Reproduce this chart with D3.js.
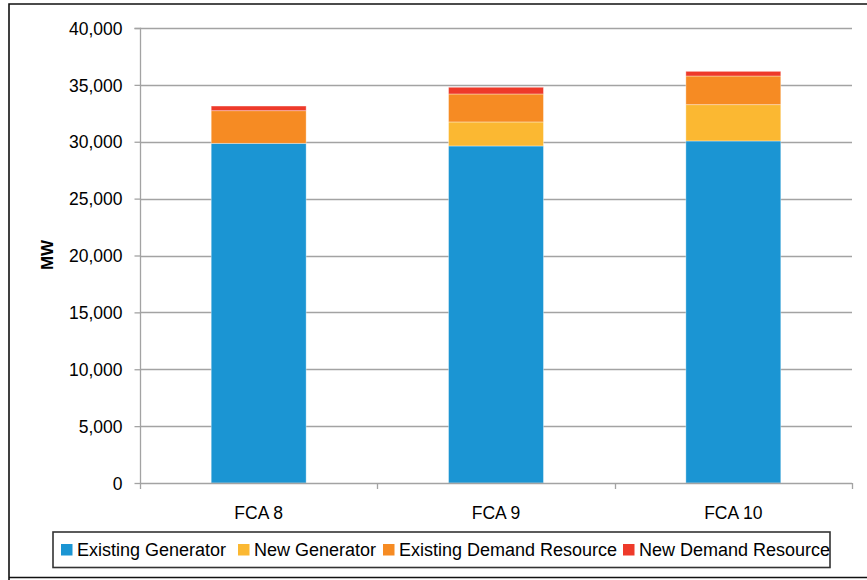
<!DOCTYPE html>
<html>
<head>
<meta charset="utf-8">
<script src="https://cdn.jsdelivr.net/npm/d3@7"></script>
<style>
  body { margin: 0; background: #fff; }
  svg text { font-family: "Liberation Sans", Arial, sans-serif; fill: #000; }
</style>
</head>
<body>
<svg width="867" height="580"></svg>
<script>
// data
var auctions = ["FCA 8", "FCA 9", "FCA 10"];
var seriesNames = ["Existing Generator", "New Generator", "Existing Demand Resource", "New Demand Resource"];
var existingGen = [29860, 29630, 30070];
var newGen = [0, 2110, 3190];
var existingDR = [2870, 2460, 2520];
var newDR = [410, 590, 410];
var yTicks = [0, 5000, 10000, 15000, 20000, 25000, 30000, 35000, 40000];
var colors = ["#1b95d3", "#fbb832", "#f68b23", "#ee3a2a"];

var svg = d3.select("svg");

// outer frame
svg.append("path")
  .attr("d", "M9,600 V4 H900")
  .attr("fill", "none")
  .attr("stroke", "#111")
  .attr("stroke-width", 1.6);
svg.append("line")
  .attr("x1", 9).attr("x2", 900)
  .attr("y1", 577.5).attr("y2", 577.5)
  .attr("stroke", "#111").attr("stroke-width", 1.6);

var plotLeft = 140, plotRight = 852, plotTop = 28, plotBottom = 483;

var x = d3.scaleBand()
  .domain(auctions)
  .range([plotLeft, plotRight])
  .paddingInner(0.6)
  .paddingOuter(0.3);

var y = d3.scaleLinear()
  .domain([0, 40000])
  .range([plotBottom, plotTop]);

// gridlines
svg.append("g")
  .selectAll("line")
  .data(yTicks.filter(d => d > 0))
  .enter()
  .append("line")
    .attr("x1", plotLeft).attr("x2", plotRight)
    .attr("y1", d => Math.round(y(d)) + 0.5)
    .attr("y2", d => Math.round(y(d)) + 0.5)
    .attr("stroke", "#a3a3a3")
    .attr("stroke-width", 1.3);

// stacked bars
var rows = auctions.map(function(a, i){
  return {cat: a, s0: existingGen[i], s1: newGen[i], s2: existingDR[i], s3: newDR[i]};
});
var stack = d3.stack().keys(["s0", "s1", "s2", "s3"])(rows);

svg.append("g")
  .selectAll("g")
  .data(stack)
  .enter()
  .append("g")
    .attr("fill", (d, i) => colors[i])
  .selectAll("rect")
  .data(d => d)
  .enter()
  .append("rect")
    .attr("x", d => x(d.data.cat))
    .attr("width", x.bandwidth())
    .attr("y", d => y(d[1]))
    .attr("height", d => y(d[0]) - y(d[1]))
    .attr("stroke", "rgba(255,255,255,0.45)")
    .attr("stroke-width", 0.8);

// y axis
var yAxis = d3.axisLeft(y)
  .tickValues(yTicks)
  .tickSize(6)
  .tickPadding(12)
  .tickFormat(d3.format(","));

var yg = svg.append("g")
  .attr("transform", "translate(" + (plotLeft + 0.5) + ",0)")
  .call(yAxis);
yg.selectAll("path, line").attr("stroke", "#a3a3a3").attr("stroke-width", 1.3);
yg.select(".domain").attr("d", "M-6," + (plotTop + 0.5) + "H0V" + plotBottom);
yg.selectAll("text")
  .style("font-size", "17.5px")
  .attr("dy", "0.35em")
  .attr("fill", "#000");

// x axis
var xAxis = d3.axisBottom(x).tickSize(0).tickPadding(23);
var xg = svg.append("g")
  .attr("transform", "translate(0," + (plotBottom + 0.5) + ")")
  .call(xAxis);
xg.select(".domain").attr("stroke", "#a3a3a3").attr("stroke-width", 1.3)
  .attr("d", "M" + plotLeft + ",0H" + plotRight);
xg.selectAll("text").style("font-size", "17.5px").attr("fill", "#000");

// tick marks between categories
svg.append("g")
  .selectAll("line")
  .data(d3.range(auctions.length + 1))
  .enter()
  .append("line")
    .attr("x1", d => Math.round(plotLeft + d * (plotRight - plotLeft) / auctions.length) + 0.5)
    .attr("x2", d => Math.round(plotLeft + d * (plotRight - plotLeft) / auctions.length) + 0.5)
    .attr("y1", plotBottom).attr("y2", plotBottom + 6)
    .attr("stroke", "#a3a3a3").attr("stroke-width", 1.3);

// axis title
svg.append("text")
  .attr("transform", "translate(53,255) rotate(-90)")
  .attr("text-anchor", "middle")
  .style("font-size", "17px")
  .style("font-weight", "bold")
  .text("MW");

// legend
svg.append("rect")
  .attr("x", 53).attr("y", 532)
  .attr("width", 777).attr("height", 35.5)
  .attr("fill", "#fff")
  .attr("stroke", "#333")
  .attr("stroke-width", 1.6);

var legendX = [61, 238, 383, 623];
var legend = svg.append("g")
  .selectAll("g")
  .data(seriesNames)
  .enter()
  .append("g")
    .attr("transform", (d, i) => "translate(" + legendX[i] + ",544)");
legend.append("rect")
  .attr("width", 11.5).attr("height", 11.5)
  .attr("fill", (d, i) => colors[i]);
legend.append("text")
  .attr("x", 16)
  .attr("y", 11.5)
  .style("font-size", "18px")
  .text(d => d);
</script>
</body>
</html>
